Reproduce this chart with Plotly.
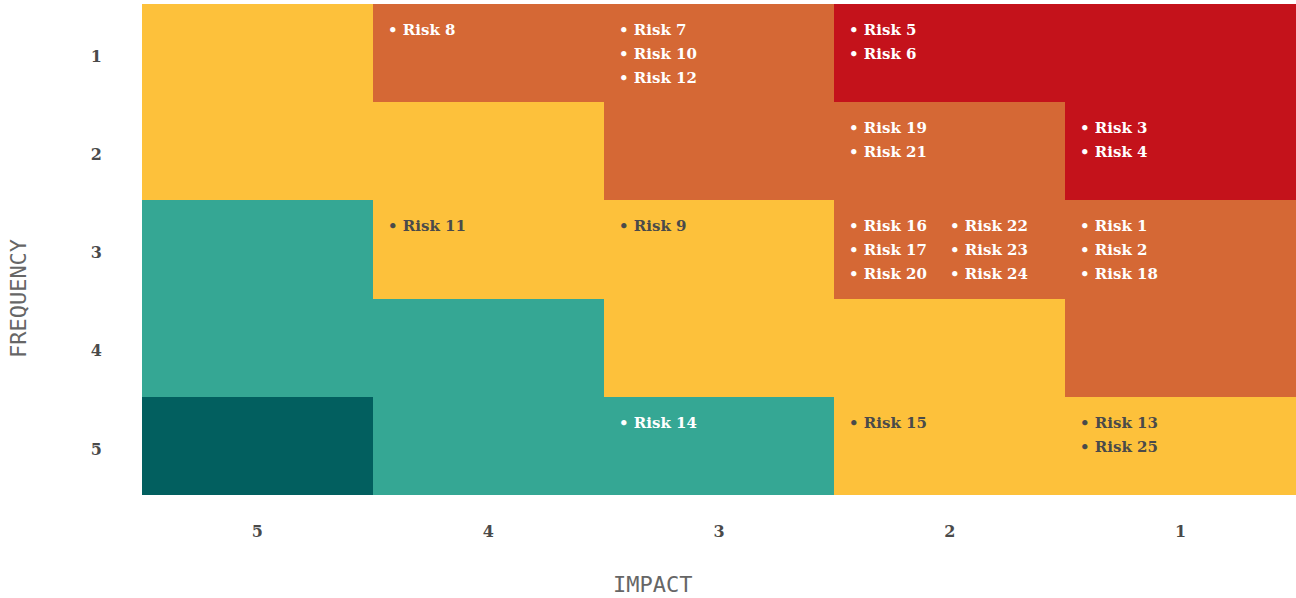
import plotly.graph_objects as go

# Axis categories
impact_labels = ["5", "4", "3", "2", "1"]      # left to right
frequency_labels = ["1", "2", "3", "4", "5"]   # top to bottom

# Risk level per cell (rows = frequency 1..5, columns = impact 5..1)
# 0 = very low, 1 = low, 2 = medium, 3 = high, 4 = very high
risk_level = [
    [2, 3, 3, 4, 4],
    [2, 2, 3, 3, 4],
    [1, 2, 2, 3, 3],
    [1, 1, 2, 2, 3],
    [0, 1, 1, 2, 2],
]

level_colors = ["#025f5f", "#35a794", "#fdc13b", "#d56835", "#c4121b"]
level_text_colors = ["#ffffff", "#ffffff", "#4a4a4a", "#ffffff", "#ffffff"]

# Risks placed on the matrix: (name, frequency, impact)
risk_names = ["Risk 8", "Risk 7", "Risk 10", "Risk 12", "Risk 5", "Risk 6",
              "Risk 19", "Risk 21", "Risk 3", "Risk 4", "Risk 11", "Risk 9",
              "Risk 16", "Risk 17", "Risk 20", "Risk 22", "Risk 23", "Risk 24",
              "Risk 1", "Risk 2", "Risk 18", "Risk 14", "Risk 15", "Risk 13", "Risk 25"]
risk_frequency = ["1", "1", "1", "1", "1", "1",
                  "2", "2", "2", "2", "3", "3",
                  "3", "3", "3", "3", "3", "3",
                  "3", "3", "3", "5", "5", "5", "5"]
risk_impact = ["4", "3", "3", "3", "2", "2",
               "2", "2", "1", "1", "4", "3",
               "2", "2", "2", "2", "2", "2",
               "1", "1", "1", "3", "2", "1", "1"]

n = len(impact_labels)
colorscale = []
for i, c in enumerate(level_colors):
    colorscale.append([i / n, c])
    colorscale.append([(i + 1) / n, c])

fig = go.Figure(
    go.Heatmap(
        z=risk_level,
        x=impact_labels,
        y=frequency_labels,
        zmin=-0.5,
        zmax=4.5,
        colorscale=colorscale,
        showscale=False,
        hoverinfo="skip",
    )
)

label_font = "DejaVu Serif"
title_font = "DejaVu Sans Mono"
line_step = 24
col_step = 101
per_column = 3

cell_counts = {}
for name, fq, im in zip(risk_names, risk_frequency, risk_impact):
    k = cell_counts.get((fq, im), 0)
    cell_counts[(fq, im)] = k + 1
    xi = impact_labels.index(im)
    yi = frequency_labels.index(fq)
    lvl = risk_level[yi][xi]
    fig.add_annotation(
        x=xi - 0.5,
        y=yi - 0.5,
        xref="x",
        yref="y",
        text="• " + name,
        showarrow=False,
        xanchor="left",
        yanchor="middle",
        xshift=13 + (k // per_column) * col_step,
        yshift=-(26 + (k % per_column) * line_step),
        font=dict(family=label_font, size=15, weight="bold",
                  color=level_text_colors[lvl]),
    )

# Axis titles, centred on the whole figure
fig.add_annotation(
    x=0.4428, y=0, xref="paper", yref="paper",
    text="IMPACT", showarrow=False,
    xanchor="center", yanchor="middle", yshift=-89,
    font=dict(family=title_font, size=22, color="#666666"),
)
fig.add_annotation(
    x=0, y=0.399, xref="paper", yref="paper",
    text="FREQUENCY", showarrow=False, textangle=-90,
    xanchor="center", yanchor="middle", xshift=-124,
    font=dict(family=title_font, size=22, color="#666666"),
)

fig.update_xaxes(
    type="category",
    showgrid=False,
    zeroline=False,
    automargin=False,
    ticks="outside",
    ticklen=22,
    tickcolor="rgba(0,0,0,0)",
    tickfont=dict(family=label_font, size=16, weight="bold", color="#4a4a4a"),
    range=[-0.5, 4.5],
)
fig.update_yaxes(
    type="category",
    range=[4.5, -0.5],
    showgrid=False,
    zeroline=False,
    automargin=False,
    ticks="outside",
    ticklen=36,
    ticklabelshift=-3,
    tickcolor="rgba(0,0,0,0)",
    tickfont=dict(family=label_font, size=16, weight="bold", color="#4a4a4a"),
)

fig.update_layout(
    width=1296,
    height=598,
    margin=dict(l=142, r=0, t=4, b=103),
    paper_bgcolor="white",
    plot_bgcolor="white",
)

fig.write_html("out.html")
